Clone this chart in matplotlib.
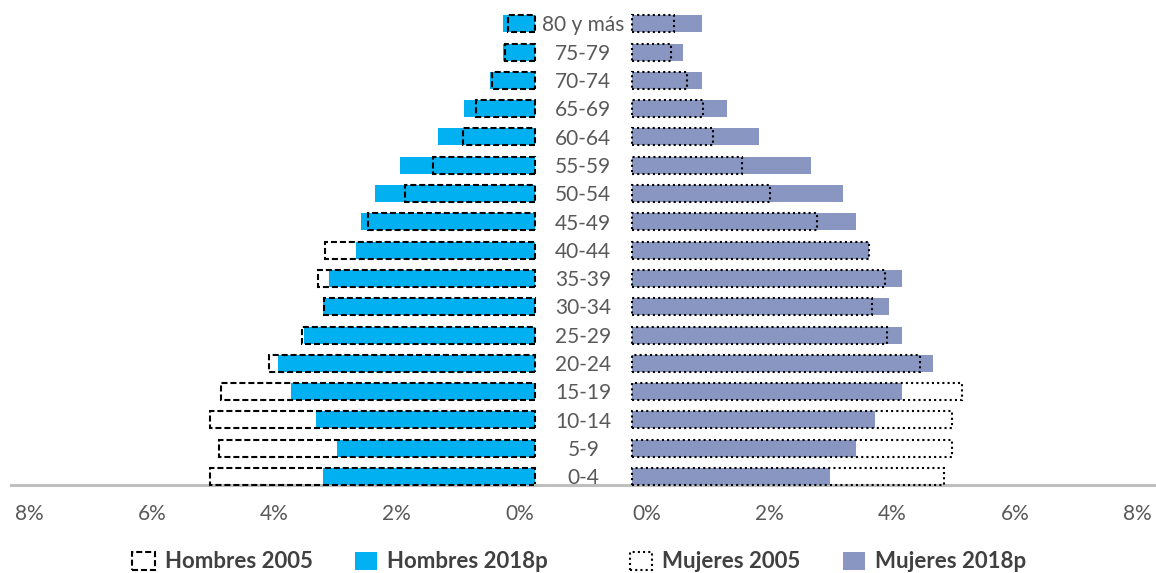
import numpy as np
import matplotlib.pyplot as plt
from matplotlib.patches import Patch

plt.rcParams['font.family'] = ['Lato', 'DejaVu Sans']

# grupos de edad, de abajo hacia arriba
edades = ['0-4', '5-9', '10-14', '15-19', '20-24', '25-29', '30-34', '35-39',
          '40-44', '45-49', '50-54', '55-59', '60-64', '65-69', '70-74',
          '75-79', '80 y más']

# porcentaje de la poblacion total
hombres_2005 = [4.96, 4.83, 4.96, 4.79, 4.06, 3.55, 3.22, 3.31, 3.20, 2.55,
                1.98, 1.55, 1.10, 0.90, 0.66, 0.46, 0.41]
hombres_2018p = [3.23, 3.03, 3.34, 3.72, 3.92, 3.52, 3.23, 3.14, 2.74, 2.65,
                 2.45, 2.06, 1.48, 1.08, 0.69, 0.49, 0.49]
mujeres_2005 = [4.77, 4.89, 4.89, 5.04, 4.40, 3.89, 3.67, 3.86, 3.62, 2.83,
                2.11, 1.68, 1.24, 1.09, 0.85, 0.61, 0.65]
mujeres_2018p = [3.03, 3.43, 3.72, 4.12, 4.60, 4.12, 3.92, 4.12, 3.63, 3.43,
                 3.23, 2.74, 1.95, 1.46, 1.08, 0.78, 1.08]

ticks = [0, 2, 4, 6, 8]

azul = '#00B0F0'
lila = '#8996C1'
gris_txt = '#595959'
gris_eje = '#BFBFBF'
dashed = (0, (2.9, 1.4))
dotted = (0, (1.0, 1.5))

W, H = 1156, 573
fig = plt.figure(figsize=(W / 100, H / 100), dpi=100)

bottom = (H - 485) / H
height = 16.8 * 28.3 / H
ax_h = fig.add_axes([11 / W, bottom, 524 / W, height])
ax_c = fig.add_axes([535 / W, bottom, 96.5 / W, height])
ax_m = fig.add_axes([631.5 / W, bottom, 524.5 / W, height])

y = np.arange(len(edades))
bh = 0.6

ax_h.barh(y, hombres_2018p, height=bh, color=azul, zorder=2)
ax_h.barh(y, hombres_2005, height=bh, facecolor='none', edgecolor='black',
          linewidth=1.5, linestyle=dashed, zorder=3, clip_on=False)
ax_h.set_xlim(8, 0)

ax_m.barh(y, mujeres_2018p, height=bh, color=lila, zorder=2)
ax_m.barh(y, mujeres_2005, height=bh, facecolor='none', edgecolor='black',
          linewidth=1.5, linestyle=dotted, zorder=3, clip_on=False)
ax_m.set_xlim(0, 8)

for i, e in enumerate(edades):
    ax_c.text(0.5, i - 0.06, e, ha='center', va='center', fontsize=15,
              color=gris_txt, zorder=5)
ax_c.set_xlim(0, 1)
ax_c.set_xticks([])

# las etiquetas del eje estan algo corridas respecto a las barras
tick_pos = [0.24 + 0.935 * t for t in ticks]
for ax in (ax_h, ax_m, ax_c):
    ax.set_ylim(-0.3, 16.5)
    ax.set_yticks([])
    for s in ('top', 'left', 'right'):
        ax.spines[s].set_visible(False)
    ax.spines['bottom'].set_color(gris_eje)
    ax.spines['bottom'].set_linewidth(2.2)
    ax.spines['bottom'].set_zorder(1)
    ax.patch.set_alpha(0)

for ax in (ax_h, ax_m):
    ax.set_xticks(tick_pos)
    ax.set_xticklabels([f'{t}%' for t in ticks])
    ax.tick_params(axis='x', length=0, pad=14, labelsize=15,
                   labelcolor=gris_txt)

leg_kw = dict(ncol=2, frameon=False, handlelength=1.0,
              handleheight=0.85, handletextpad=0.45, columnspacing=1.9,
              prop={'weight': 'bold', 'size': 16})
h05 = Patch(facecolor='white', edgecolor='black', linewidth=1.5,
            linestyle=dashed)
h18 = Patch(facecolor=azul)
m05 = Patch(facecolor='white', edgecolor='black', linewidth=1.5,
            linestyle=dotted)
m18 = Patch(facecolor=lila)

leg1 = fig.legend([h05, h18], ['Hombres 2005', 'Hombres 2018p'],
                  loc='center', bbox_to_anchor=(340 / W, 1 - 562 / H),
                  **leg_kw)
leg2 = fig.legend([m05, m18], ['Mujeres 2005', 'Mujeres 2018p'],
                  loc='center', bbox_to_anchor=(828 / W, 1 - 562 / H),
                  **leg_kw)
for leg in (leg1, leg2):
    for t in leg.get_texts():
        t.set_color('#404040')

fig.savefig('out.png', dpi=100)
